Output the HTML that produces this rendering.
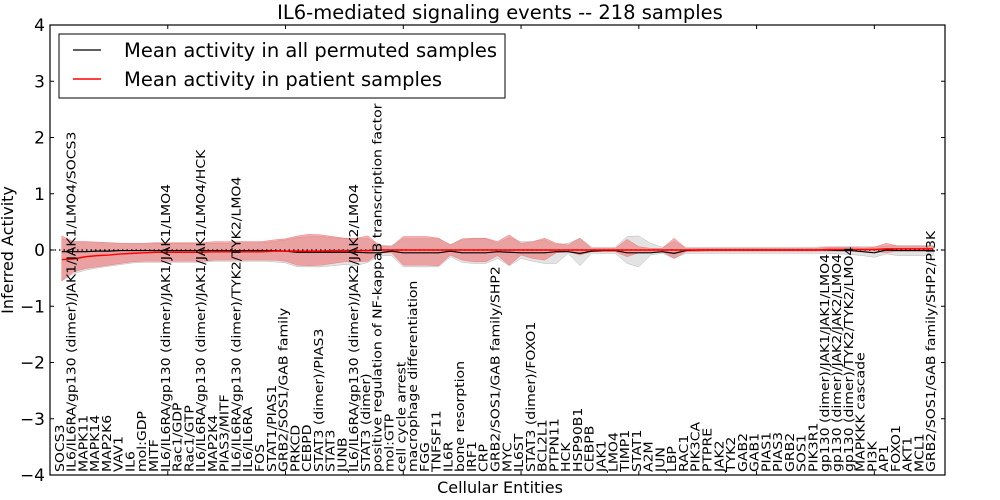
<!DOCTYPE html>
<html><head><meta charset="utf-8"><style>
html,body{margin:0;padding:0;background:#fff;}
svg{display:block;font-family:"DejaVu Sans","Liberation Sans",sans-serif;}
</style></head><body>
<svg id="chart" width="1000" height="500" xmlns="http://www.w3.org/2000/svg">
<rect width="1000" height="500" fill="#fff"/>
<text x="500" y="19" font-size="19.5" text-anchor="middle">IL6-mediated signaling events -- 218 samples</text>
<text x="500" y="493" font-size="16" text-anchor="middle">Cellular Entities</text>
<text transform="translate(13,250) rotate(-90)" font-size="16" text-anchor="middle">Inferred Activity</text>
<g id="plot"></g>
</svg>
<script>
const categories = ["SOCS3","IL6/IL6RA/gp130 (dimer)/JAK1/JAK1/LMO4/SOCS3","MAPK11","MAPK14","MAP2K6","VAV1","IL6","mol:GDP","MITF","IL6/IL6RA/gp130 (dimer)/JAK1/JAK1/LMO4","Rac1/GDP","Rac1/GTP","IL6/IL6RA/gp130 (dimer)/JAK1/JAK1/LMO4/HCK","MAP2K4","PIAS3/MITF","IL6/IL6RA/gp130 (dimer)/TYK2/TYK2/LMO4","IL6/IL6RA","FOS","STAT1/PIAS1","GRB2/SOS1/GAB family","PRKCD","CEBPD","STAT3 (dimer)/PIAS3","STAT3","JUNB","IL6/IL6RA/gp130 (dimer)/JAK2/JAK2/LMO4","STAT3 (dimer)","positive regulation of NF-kappaB transcription factor activity","mol:GTP","cell cycle arrest","macrophage differentiation","FGG","TNFSF11","IL6R","bone resorption","IRF1","CRP","GRB2/SOS1/GAB family/SHP2","MYC","IL6ST","STAT3 (dimer)/FOXO1","BCL2L1","PTPN11","HCK","HSP90B1","CEBPB","JAK1","LMO4","TIMP1","STAT1","A2M","JUN","LBP","RAC1","PIK3CA","PTPRE","JAK2","TYK2","GAB2","GAB1","PIAS1","PIAS3","GRB2","SOS1","PIK3R1","gp130 (dimer)/JAK1/JAK1/LMO4","gp130 (dimer)/JAK2/JAK2/LMO4","gp130 (dimer)/TYK2/TYK2/LMO4","MAPKKK cascade","PI3K","AP1","FOXO1","AKT1","MCL1","GRB2/SOS1/GAB family/SHP2/PI3K"];
const patientMean = [-0.17,-0.16,-0.12,-0.1,-0.09,-0.07,-0.06,-0.05,-0.04,-0.04,-0.04,-0.04,-0.04,-0.03,-0.03,-0.03,-0.03,-0.03,-0.02,-0.02,-0.02,-0.02,-0.02,-0.01,-0.01,-0.01,-0.01,0,0,0,0,0,0,0,0,0,0,0,0,0,0,0,0,0,0,0,0,0,0,0,0,0,0,0,0,0,0,0,0,0,0,0,0,0,0,0.01,0.01,0.01,0.01,0.01,0.02,0.02,0.02,0.02,0.02];
const patientUpper = [0.25,0.15,0.15,0.14,0.13,0.12,0.12,0.12,0.13,0.13,0.13,0.13,0.13,0.15,0.15,0.15,0.15,0.15,0.18,0.2,0.25,0.28,0.27,0.24,0.21,0.21,0.25,0.08,0.06,0.24,0.24,0.24,0.21,0.09,0.2,0.21,0.21,0.15,0.27,0.12,0.15,0.21,0.12,0.09,0.21,0.03,0.03,0.03,0.19,0.06,0.03,0.03,0.21,0.03,0.03,0.03,0.03,0.03,0.03,0.03,0.03,0.03,0.03,0.03,0.03,0.05,0.05,0.05,0.04,0.05,0.12,0.07,0.07,0.07,0.07];
const patientLower = [-0.55,-0.39,-0.33,-0.3,-0.27,-0.24,-0.21,-0.2,-0.2,-0.2,-0.2,-0.2,-0.2,-0.18,-0.18,-0.18,-0.18,-0.18,-0.18,-0.2,-0.27,-0.28,-0.27,-0.24,-0.21,-0.21,-0.2,-0.05,-0.05,-0.27,-0.27,-0.27,-0.28,-0.09,-0.18,-0.21,-0.21,-0.1,-0.27,-0.09,-0.15,-0.18,-0.05,-0.03,-0.09,-0.03,-0.03,-0.03,-0.12,-0.05,-0.03,-0.03,-0.15,-0.03,-0.03,-0.02,-0.02,-0.02,-0.02,-0.02,-0.02,-0.02,-0.02,-0.02,-0.02,-0.02,-0.02,-0.02,-0.02,-0.02,-0.05,-0.02,-0.02,-0.02,-0.02];
const permMean = [-0.03,-0.03,-0.03,-0.02,-0.02,-0.01,-0.01,-0.01,-0.01,-0.01,-0.01,-0.01,-0.01,-0.01,-0.01,-0.01,-0.01,-0.01,-0.01,-0.02,-0.04,-0.04,-0.04,-0.04,-0.04,-0.04,-0.05,-0.05,-0.02,-0.05,-0.05,-0.05,-0.05,-0.02,-0.05,-0.05,-0.05,-0.03,-0.04,-0.05,-0.05,-0.05,-0.03,-0.03,-0.06,-0.02,-0.01,-0.01,-0.05,-0.05,-0.05,-0.03,-0.06,-0.01,0,0,0,0,0,0,0,0,0,0,0,0,-0.01,-0.01,-0.03,-0.05,0,-0.01,-0.01,-0.01,-0.01];
const permUpper = [0.2,0.15,0.15,0.14,0.13,0.12,0.12,0.12,0.12,0.12,0.12,0.12,0.12,0.12,0.12,0.13,0.13,0.13,0.15,0.18,0.22,0.24,0.24,0.22,0.2,0.2,0.2,0.08,0.08,0.2,0.2,0.2,0.2,0.1,0.18,0.2,0.2,0.12,0.22,0.15,0.15,0.18,0.09,0.12,0.21,0.05,0.05,0.05,0.24,0.25,0.12,0.05,0.15,0.05,0.05,0.05,0.05,0.05,0.05,0.05,0.05,0.05,0.05,0.05,0.05,0.06,0.06,0.06,0.06,0.06,0.07,0.08,0.08,0.08,0.08];
const permLower = [-0.55,-0.42,-0.36,-0.32,-0.29,-0.26,-0.23,-0.22,-0.22,-0.22,-0.22,-0.22,-0.22,-0.2,-0.2,-0.2,-0.2,-0.2,-0.21,-0.23,-0.3,-0.3,-0.3,-0.28,-0.26,-0.28,-0.22,-0.1,-0.1,-0.3,-0.3,-0.3,-0.3,-0.12,-0.22,-0.24,-0.24,-0.15,-0.28,-0.15,-0.2,-0.24,-0.24,-0.06,-0.28,-0.06,-0.06,-0.06,-0.24,-0.3,-0.09,-0.06,-0.15,-0.06,-0.06,-0.06,-0.06,-0.06,-0.06,-0.06,-0.06,-0.06,-0.06,-0.06,-0.06,-0.06,-0.07,-0.08,-0.1,-0.13,-0.07,-0.1,-0.1,-0.1,-0.1];
const yTicks = [-4,-3,-2,-1,0,1,2,3,4];
const xTicks = [10,20,30,40,50,60,70];

const L=50,R=945,T=25,B=475,XMIN=0,XMAX=76,YMIN=-4,YMAX=4;
function xs(v){return L+(v-XMIN)/(XMAX-XMIN)*(R-L);}
function ys(v){return B-(v-YMIN)/(YMAX-YMIN)*(B-T);}
const NS="http://www.w3.org/2000/svg";
const g=document.getElementById('plot');
function mk(tag,attrs,parent){const e=document.createElementNS(NS,tag);for(const k in attrs)e.setAttribute(k,attrs[k]);(parent||g).appendChild(e);return e;}
function band(up,lo){let d='';up.forEach((v,i)=>{d+=(i?'L':'M')+xs(i+1)+','+ys(v);});for(let i=lo.length-1;i>=0;i--)d+='L'+xs(i+1)+','+ys(lo[i]);return d+'Z';}
function line(arr){return arr.map((v,i)=>(i?'L':'M')+xs(i+1)+','+ys(v)).join('');}

const gb=mk('path',{d:band(permUpper,permLower),fill:'#c8c8c8','fill-opacity':'0.5',stroke:'#bbbbbb','stroke-width':'0.5'});


const rb=mk('path',{d:band(patientUpper,patientLower),fill:'#f06060','fill-opacity':'0.5',stroke:'#f08080','stroke-width':'0.5'});


const zl=mk('line',{x1:L,x2:R,y1:ys(0),y2:ys(0),stroke:'#000','stroke-dasharray':'1.5,3','stroke-width':'1.2'});


const bl=mk('path',{d:line(permMean),fill:'none',stroke:'#000','stroke-width':'1.2'});


const rl=mk('path',{d:line(patientMean),fill:'none',stroke:'#ff0000','stroke-width':'1.5'});



categories.forEach((c,i)=>{
  const t=mk('text',{transform:'translate('+(xs(i+1)+2)+','+(B-3)+') rotate(-90) scale(1.17,1)','font-size':'12'});
  t.textContent=c;
  
  
});

yTicks.forEach(v=>{
  const y=ys(v);
  mk('line',{x1:L,x2:L+4,y1:y,y2:y,stroke:'#000'});
  mk('line',{x1:R,x2:R-4,y1:y,y2:y,stroke:'#000'});
  const t=mk('text',{x:L-5,y:y+6,'font-size':'17','text-anchor':'end'});
  t.textContent=v<0?'\u2212'+Math.abs(v):String(v);
  
  
});
xTicks.forEach(v=>{
  const x=xs(v);
  mk('line',{x1:x,x2:x,y1:T,y2:T+4,stroke:'#000'});
  mk('line',{x1:x,x2:x,y1:B,y2:B-4,stroke:'#000'});
});
const fr=mk('rect',{x:L,y:T,width:R-L,height:B-T,fill:'none',stroke:'#000','stroke-width':'1.2'});



const lg=mk('g',{});


mk('rect',{x:59,y:34,width:446,height:64,fill:'#fff',stroke:'#000','stroke-width':'1'},lg);
mk('line',{x1:73,x2:101,y1:50,y2:50,stroke:'#000','stroke-width':'1.2'},lg);
mk('line',{x1:73,x2:101,y1:79,y2:79,stroke:'#ff0000','stroke-width':'1.5'},lg);
const l1=mk('text',{x:124,y:57,'font-size':'19.5'},lg);
l1.textContent='Mean activity in all permuted samples';


const l2=mk('text',{x:124,y:86,'font-size':'19.5'},lg);
l2.textContent='Mean activity in patient samples';


</script>
</body></html>
